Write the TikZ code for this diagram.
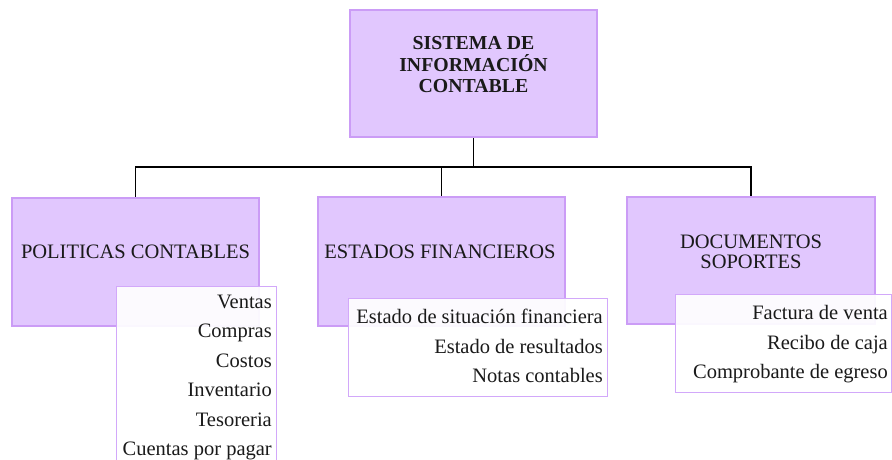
\documentclass[tikz,border=0pt]{standalone}
\usepackage{fontspec}
\setmainfont{Liberation Serif}
\usetikzlibrary{backgrounds}
\definecolor{boxfill}{HTML}{E1C7FE}
\definecolor{boxline}{HTML}{CB9CF6}
\definecolor{listline}{HTML}{D2A8FA}
\definecolor{ink}{HTML}{1A1A1A}
\begin{document}
\begin{tikzpicture}[x=1pt,y=-1pt,
  mainbox/.style={draw=boxline, fill=boxfill, line width=1.3pt, rectangle, inner sep=0pt},
  listbox/.style={draw=listline, fill=white, fill opacity=0.92, draw opacity=1, line width=1.3pt, rectangle, inner sep=0pt},
  lbl/.style={font=\fontsize{20.5}{20.5}\selectfont, text=ink, align=center, inner sep=0pt},
  items/.style={font=\fontsize{20.5}{29.5}\selectfont, text=ink, align=right, inner sep=0pt, anchor=north east},
  conn/.style={draw=black, line width=1.5pt}]
\useasboundingbox (0,0) rectangle (892,459);
\clip (0,0) rectangle (892,459);
% boxes
\coordinate (j) at (473.5,167);
\node[mainbox, minimum width=247pt, minimum height=127pt] (top) at (473.5,73.5) {};
\node[mainbox, minimum width=247pt, minimum height=128pt] (pol) at (135.5,262) {};
\node[mainbox, minimum width=247pt, minimum height=129pt] (est) at (441.5,261.5) {};
\node[mainbox, minimum width=248pt, minimum height=127pt] (doc) at (751,260.5) {};
% connectors
\begin{scope}[on background layer]
\draw[conn] (top.south) -- (j);
\draw[conn] (pol.north) -- (pol.north |- j) -- (doc.north |- j) -- (doc.north);
\draw[conn] (est.north) -- (est.north |- j);
\end{scope}
% labels
\node[lbl, font=\fontsize{19.8}{21.5}\selectfont\bfseries] (toptxt) at (473.5,65) {SISTEMA DE\\INFORMACIÓN\\CONTABLE};
\node[lbl] (poltxt) at (135.5,252) {POLITICAS CONTABLES};
\node[lbl] (esttxt) at (440,252) {ESTADOS FINANCIEROS};
\node[lbl] (doctxt) at (751,252) {DOCUMENTOS\\SOPORTES};
% list boxes
\node[listbox, minimum width=160pt, minimum height=190pt, anchor=north west] (polL) at (116,286) {};
\node[listbox, minimum width=259pt, minimum height=98pt, anchor=north west] (estL) at (348,298) {};
\node[listbox, minimum width=216pt, minimum height=98pt, anchor=north west] (docL) at (675,294) {};
% list items
\node[items] (polI) at (272,294.5) {Ventas\\Compras\\Costos\\Inventario\\Tesoreria\\Cuentas por pagar};
\node[items] (estI) at (603,309) {Estado de situación financiera\\Estado de resultados\\Notas contables};
\node[items] (docI) at (888,305.5) {Factura de venta\\Recibo de caja\\Comprobante de egreso};
\end{tikzpicture}
\end{document}
